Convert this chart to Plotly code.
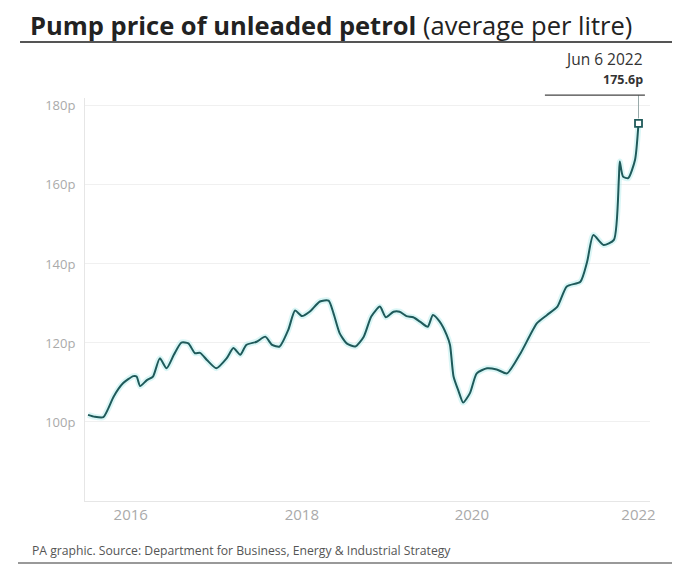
import plotly.graph_objects as go

# ---- data ----
dates = [
    "2016-01-01", "2016-01-30", "2016-03-06", "2016-03-28", "2016-04-19", "2016-05-29",
    "2016-07-12", "2016-07-26", "2016-08-10", "2016-09-08", "2016-10-04", "2016-11-02",
    "2016-12-01", "2017-01-01", "2017-02-02", "2017-03-04", "2017-04-01", "2017-04-23",
    "2017-05-22", "2017-07-01", "2017-08-14", "2017-09-12", "2017-10-11", "2017-11-06",
    "2017-12-20", "2018-01-26", "2018-02-24", "2018-03-28", "2018-05-04", "2018-06-02",
    "2018-07-01", "2018-08-03", "2018-09-16", "2018-10-23", "2018-11-13", "2018-12-09",
    "2019-01-08", "2019-02-14", "2019-03-22", "2019-04-23", "2019-05-30", "2019-06-24",
    "2019-07-27", "2019-08-22", "2019-09-20", "2019-10-19", "2019-11-17", "2019-12-20",
    "2020-01-11", "2020-02-09", "2020-03-10", "2020-03-24", "2020-04-08", "2020-04-30",
    "2020-05-19", "2020-06-17", "2020-07-16", "2020-08-29", "2020-10-09", "2020-11-22",
    "2021-01-19", "2021-03-30", "2021-05-12", "2021-06-25", "2021-08-04", "2021-10-01",
    "2021-10-30", "2021-11-25", "2022-01-08", "2022-02-21", "2022-03-14", "2022-03-18",
    "2022-04-01", "2022-04-23", "2022-05-22", "2022-06-06",
]
prices = [
    101.8, 101.3, 101.2, 103.5, 106.4, 109.8,
    111.6, 111.5, 109.1, 110.6, 111.5, 116.1,
    113.6, 117.0, 120.1, 119.9, 117.4, 117.5,
    115.7, 113.6, 116.1, 118.7, 117.0, 119.5,
    120.3, 121.6, 119.5, 119.1, 123.3, 128.2,
    126.8, 127.9, 130.5, 130.7, 127.5, 122.5,
    119.9, 119.1, 121.6, 126.7, 129.2, 126.5,
    127.9, 127.9, 126.8, 126.5, 125.4, 124.1,
    127.1, 125.4, 122.0, 119.5, 111.5, 107.7,
    104.9, 107.3, 112.3, 113.6, 113.3, 112.3,
    117.4, 125.0, 127.1, 129.2, 134.3, 135.5,
    140.6, 147.3, 144.8, 146.1, 161.3, 165.9,
    162.1, 161.7, 166.3, 175.6,
]
y_ticks = [100, 120, 140, 160, 180]
y_tick_labels = ["100p", "120p", "140p", "160p", "180p"]
x_ticks = ["2016-07-01", "2018-07-01", "2020-06-25", "2022-06-06"]
x_tick_labels = ["2016", "2018", "2020", "2022"]
last_label_date = "Jun 6 2022"
last_label_value = "175.6p"

FONT = "Open Sans, Roboto, sans-serif"
LINE = "#1f5a5a"

fig = go.Figure()
fig.add_trace(go.Scatter(
    x=dates, y=prices, mode="lines",
    line=dict(color="rgba(150,230,230,0.35)", width=6, shape="spline", smoothing=0.6),
    hoverinfo="skip", showlegend=False,
))
fig.add_trace(go.Scatter(
    x=dates, y=prices, mode="lines",
    line=dict(color=LINE, width=2, shape="spline", smoothing=0.6),
    showlegend=False,
))
fig.add_trace(go.Scatter(
    x=[dates[-1]], y=[prices[-1]], mode="markers",
    marker=dict(symbol="square", size=7, color="white", line=dict(color=LINE, width=1.8)),
    showlegend=False, cliponaxis=False,
))

# vertical leader line from the last point up to the label rule
fig.add_shape(type="line", xref="x", yref="paper",
              x0=dates[-1], x1=dates[-1],
              y0=(prices[-1] - 80) / 102 + 0.012, y1=1.007,
              line=dict(color="#9aa", width=1))
# rule under label
fig.add_shape(type="line", xref="paper", yref="paper",
              x0=0.814, x1=0.991, y0=1.007, y1=1.007,
              line=dict(color="#444", width=1.2))
# title rule
fig.add_shape(type="line", xref="paper", yref="paper",
              x0=-0.115, x1=1.06, y0=1.139, y1=1.139,
              line=dict(color="#555", width=2))
# footer rule
fig.add_shape(type="line", xref="paper", yref="paper",
              x0=-0.1186, x1=1.06, y0=-0.154, y1=-0.154,
              line=dict(color="#777", width=1.5))

fig.add_annotation(xref="paper", yref="paper", x=0.991, y=1.097,
                   text=last_label_date, showarrow=False, xanchor="right", yanchor="middle",
                   font=dict(family=FONT, size=15.5, color="#333"))
fig.add_annotation(xref="paper", yref="paper", x=0.991, y=1.045,
                   text="<b>" + last_label_value + "</b>", showarrow=False,
                   xanchor="right", yanchor="middle",
                   font=dict(family=FONT, size=12.5, color="#333"))
fig.add_annotation(xref="paper", yref="paper", x=-0.097, y=-0.124,
                   text="PA graphic. Source: Department for Business, Energy & Industrial Strategy",
                   showarrow=False, xanchor="left", yanchor="middle",
                   font=dict(family=FONT, size=12.2, color="#555"))

fig.update_layout(
    width=672, height=558,
    margin=dict(l=77, r=30, t=90, b=65),
    paper_bgcolor="white", plot_bgcolor="white",
    font=dict(family=FONT),
    title=dict(
        text="<b>Pump price of unleaded petrol</b> (average per litre)",
        x=22 / 672, xanchor="left", xref="container",
        y=1 - 18 / 558, yanchor="middle", yref="container",
        font=dict(family=FONT, size=25.5, color="#222"),
    ),
    xaxis=dict(
        type="date", range=["2015-12-19", "2022-07-25"],
        tickvals=x_ticks, ticktext=x_tick_labels,
        showgrid=False, zeroline=False,
        showline=True, linecolor="#e6e6e6", linewidth=1,
        ticks="", tickfont=dict(family=FONT, size=15, color="#aaa"),
    ),
    yaxis=dict(
        range=[80, 182],
        tickvals=y_ticks, ticktext=y_tick_labels,
        showgrid=True, gridcolor="#f0f0f0", gridwidth=1,
        zeroline=False,
        showline=True, linecolor="#e6e6e6", linewidth=1,
        ticks="", ticklabelstandoff=6,
        tickfont=dict(family=FONT, size=13, color="#aaa"),
    ),
)

fig.write_html("out.html")
